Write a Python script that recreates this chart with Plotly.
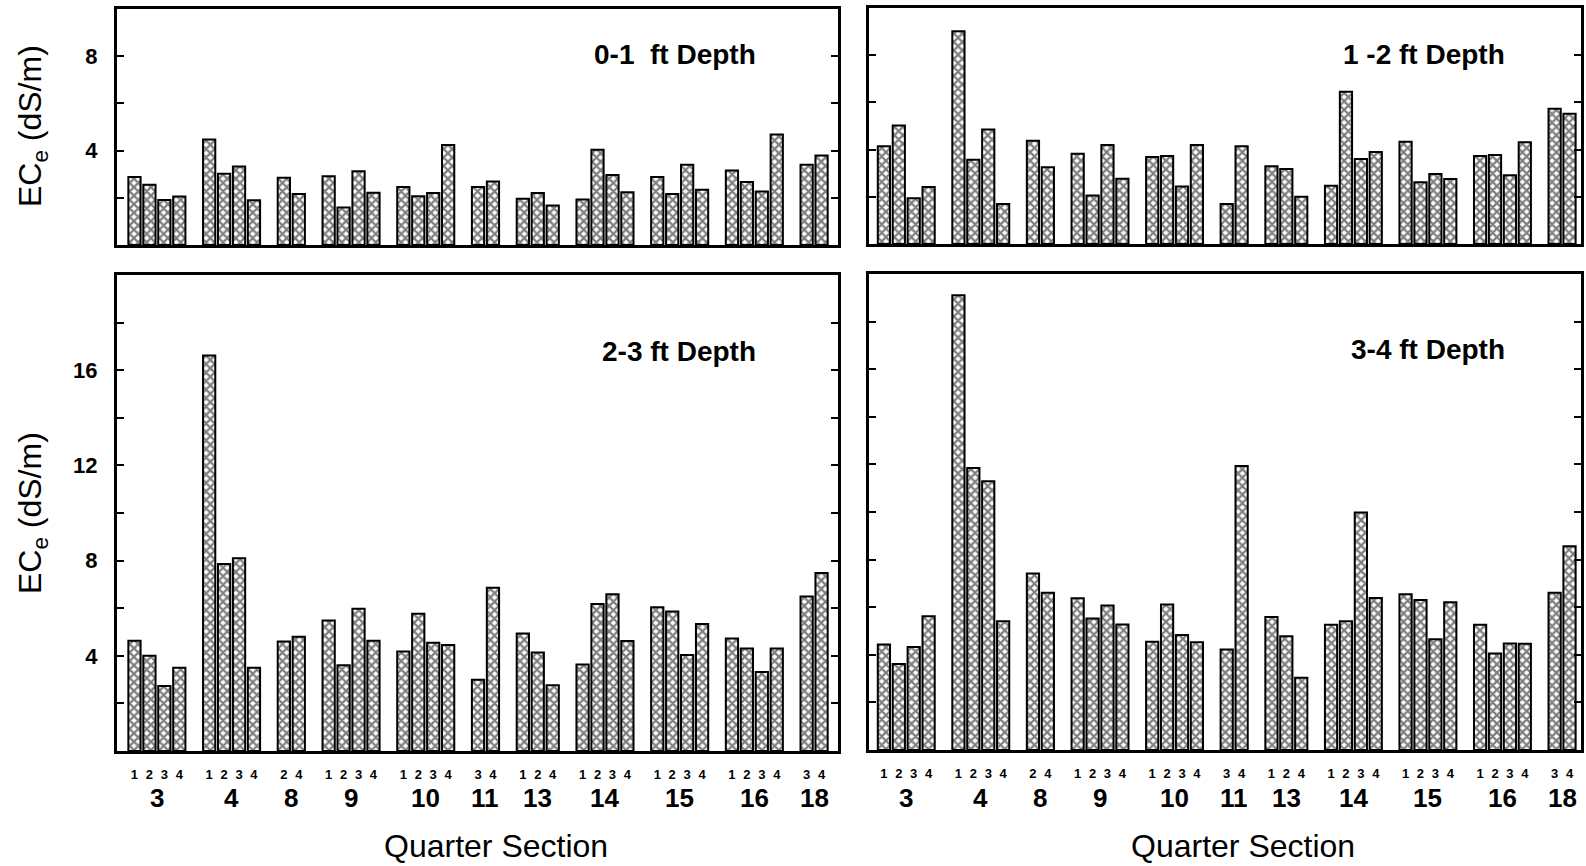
import plotly.graph_objects as go

W, H = 1586, 866

# ---------------- data ----------------
groups = ["3", "4", "8", "9", "10", "11", "13", "14", "15", "16", "18"]
subsections = [["1", "2", "3", "4"], ["1", "2", "3", "4"], ["2", "4"], ["1", "2", "3", "4"],
               ["1", "2", "3", "4"], ["3", "4"], ["1", "2", "4"], ["1", "2", "3", "4"],
               ["1", "2", "3", "4"], ["1", "2", "3", "4"], ["3", "4"]]

depth_0_1 = [2.88, 2.55, 1.91, 2.06, 4.47, 3.02, 3.33, 1.90, 2.85, 2.16,
             2.91, 1.59, 3.12, 2.21, 2.46, 2.07, 2.20, 4.24, 2.46, 2.69,
             1.96, 2.20, 1.67, 1.93, 4.04, 2.97, 2.23, 2.88, 2.16, 3.40, 2.34,
             3.16, 2.67, 2.27, 4.68, 3.40, 3.79]
depth_1_2 = [4.14, 5.02, 1.94, 2.41, 9.02, 3.57, 4.85, 1.70, 4.37, 3.25,
             3.82, 2.06, 4.20, 2.77, 3.69, 3.73, 2.44, 4.20, 1.70, 4.14,
             3.29, 3.18, 2.00, 2.47, 6.45, 3.60, 3.90, 4.33, 2.62, 2.97, 2.75,
             3.73, 3.77, 2.91, 4.31, 5.73, 5.52]
depth_2_3 = [4.63, 4.00, 2.73, 3.50, 16.62, 7.86, 8.10, 3.50, 4.60, 4.80,
             5.48, 3.60, 5.98, 4.63, 4.18, 5.77, 4.55, 4.45, 2.99, 6.86,
             4.94, 4.14, 2.76, 3.63, 6.18, 6.59, 4.62, 6.04, 5.86, 4.03, 5.34,
             4.73, 4.31, 3.32, 4.31, 6.49, 7.48]
depth_3_4 = [4.43, 3.61, 4.33, 5.62, 19.11, 11.85, 11.29, 5.41, 7.42, 6.61,
             6.38, 5.52, 6.07, 5.27, 4.55, 6.11, 4.83, 4.53, 4.22, 11.93,
             5.59, 4.78, 3.04, 5.26, 5.41, 9.98, 6.39, 6.54, 6.30, 4.65, 6.21,
             5.26, 4.05, 4.48, 4.46, 6.61, 8.56]

panel_titles = ["0-1\u00a0 ft Depth", "1 -2 ft Depth", "2-3 ft Depth", "3-4 ft Depth"]
y_title = "EC<sub>e</sub> (dS/m)"
x_title = "Quarter Section"

# ---------------- positions (sequential slots, one empty slot between groups) ----------------
positions, tick_text, group_centers = [], [], []
slot = 0
for g, subs in zip(groups, subsections):
    start = slot
    for s in subs:
        positions.append(slot)
        tick_text.append(s)
        slot += 1
    group_centers.append((start + slot - 1) / 2)
    slot += 1

FONT = "Liberation Sans, Arial, Helvetica, sans-serif"

def px_x(p):
    return p / W

def px_y(p):
    return 1 - p / H

# panel geometry in pixels: (left, right, top, bottom)
panels = [
    dict(data=depth_0_1, l=117, r=838, t=9, b=245, yr=[0, 10], major=[4, 8], minor=[2, 6], labels=True,
         xlabels=False, title_x=758, title_y=54, xr=[-1.17, 47.1]),
    dict(data=depth_1_2, l=869, r=1581, t=8, b=244, yr=[0, 10], major=[4, 8], minor=[2, 6], labels=False,
         xlabels=False, title_x=1507, title_y=54, xr=[-1.0, 46.77]),
    dict(data=depth_2_3, l=117, r=838, t=275, b=751, yr=[0, 20], major=[4, 8, 12, 16], minor=[2, 6, 10, 14, 18],
         labels=True, xlabels=True, title_x=758, title_y=351, xr=[-1.17, 47.1]),
    dict(data=depth_3_4, l=869, r=1581, t=274, b=750, yr=[0, 20], major=[4, 8, 12, 16], minor=[2, 6, 10, 14, 18],
         labels=False, xlabels=True, title_x=1507, title_y=349, xr=[-1.0, 46.77]),
]

fig = go.Figure()
annotations = []
layout = {}

for i, p in enumerate(panels):
    n = i + 1
    xa = "x" if n == 1 else f"x{n}"
    ya = "y" if n == 1 else f"y{n}"
    fig.add_trace(go.Bar(
        x=positions, y=p["data"], xaxis=xa, yaxis=ya, width=0.82,
        marker=dict(color="white", line=dict(color="black", width=2),
                    pattern=dict(shape="x", fgcolor="black", bgcolor="white", size=6, solidity=0.6)),
        showlegend=False, hoverinfo="skip",
    ))
    tv = sorted(p["major"] + p["minor"])
    tt = [str(v) if v in p["major"] else "" for v in tv]
    layout["xaxis" if n == 1 else f"xaxis{n}"] = dict(
        domain=[px_x(p["l"]), px_x(p["r"])], range=p["xr"], anchor=ya,
        showline=True, linewidth=3, linecolor="black", mirror=True,
        ticks="", tickmode="array", tickvals=positions, ticktext=tick_text,
        showticklabels=p["xlabels"],
        tickfont=dict(family=FONT, size=13, color="black", weight="bold"),
        ticklabelstandoff=9, showgrid=False, zeroline=False, automargin=False,
    )
    layout["yaxis" if n == 1 else f"yaxis{n}"] = dict(
        domain=[px_y(p["b"]), px_y(p["t"])], range=p["yr"], anchor=xa,
        showline=True, linewidth=3, linecolor="black", mirror="ticks",
        ticks="inside", ticklen=7, tickwidth=2, tickcolor="black",
        tickmode="array", tickvals=tv, ticktext=tt, showticklabels=p["labels"],
        tickfont=dict(family=FONT, size=22, color="black", weight="bold"),
        ticklabelstandoff=12, showgrid=False, zeroline=False, automargin=False,
    )
    # panel title
    annotations.append(dict(
        text=panel_titles[i], xref="paper", yref="paper", x=px_x(p["title_x"]), y=px_y(p["title_y"]),
        xanchor="right", yanchor="middle", showarrow=False,
        font=dict(family=FONT, size=28, color="black", weight="bold"),
    ))

# group labels under the bottom panels
for n in (3, 4):
    xa = f"x{n}"
    for g, c in zip(groups, group_centers):
        annotations.append(dict(
            text=g, xref=xa, yref="paper", x=c, y=px_y(798), xanchor="center", yanchor="middle",
            showarrow=False, font=dict(family=FONT, size=26, color="black", weight="bold"),
        ))

# y-axis titles
for yc in [126, 513]:
    annotations.append(dict(
        text=y_title, xref="paper", yref="paper", x=px_x(32), y=px_y(yc), textangle=-90,
        xanchor="center", yanchor="middle", showarrow=False,
        font=dict(family=FONT, size=32, color="black"),
    ))

# x-axis titles
for xc in [496, 1243]:
    annotations.append(dict(
        text=x_title, xref="paper", yref="paper", x=px_x(xc), y=px_y(846),
        xanchor="center", yanchor="middle", showarrow=False,
        font=dict(family=FONT, size=32, color="black"),
    ))

fig.update_layout(
    width=W, height=H, margin=dict(l=0, r=0, t=0, b=0),
    paper_bgcolor="white", plot_bgcolor="white",
    annotations=annotations, **layout,
)

fig.write_html("out.html")
